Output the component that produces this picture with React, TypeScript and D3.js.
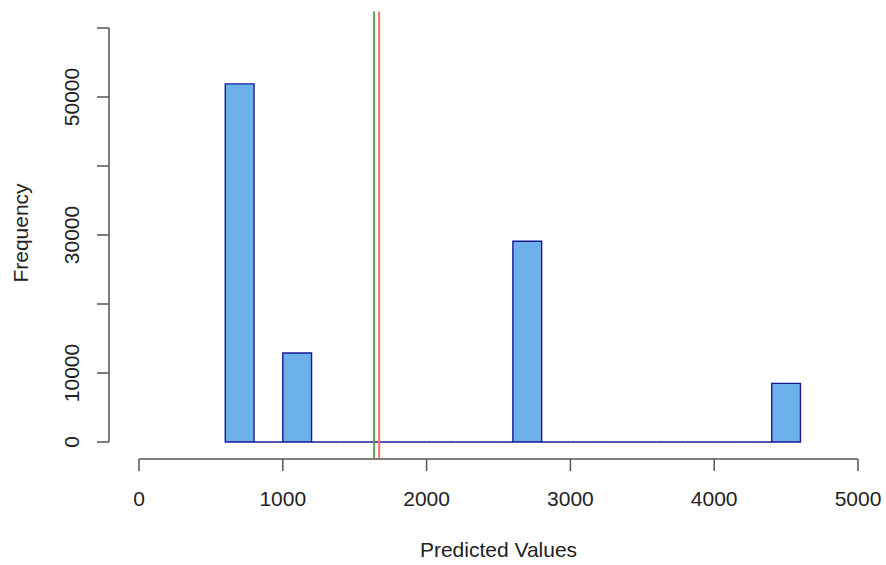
import React from "react";
import * as d3 from "d3";

// Histogram bins (left edge, width 200) and their counts
const binStarts = [600, 800, 1000, 1200, 1400, 1600, 1800, 2000, 2200, 2400, 2600, 2800, 3000, 3200, 3400, 3600, 3800, 4000, 4200, 4400];
const binCounts = [51900, 0, 12900, 0, 0, 0, 0, 0, 0, 0, 29100, 0, 0, 0, 0, 0, 0, 0, 0, 8500];
const binWidth = 200;

const xTicks = [0, 1000, 2000, 3000, 4000, 5000];
const yTicks = [0, 10000, 20000, 30000, 40000, 50000, 60000];
const yTickLabels = [0, 10000, 30000, 50000];

// Reference lines: green and red verticals
const greenLineValue = 1635;
const redLineValue = 1670;

const W = 886;
const H = 565;

export default function App() {
  const x = d3.scaleLinear().domain([0, 5000]).range([139, 858]);
  const y = d3.scaleLinear().domain([0, 60000]).range([442, 28]);
  const plotTop = y(62400);
  const plotBottom = y(-2400);

  const font = "'Liberation Sans', Arial, Helvetica, sans-serif";
  const textColor = "#222";
  const axisColor = "#555";
  const fs = 21;

  // Each bar as a closed path so that empty bins still show their outline
  const barPath = (s: number, c: number) => {
    const p = d3.path();
    p.moveTo(x(s), y(0));
    p.lineTo(x(s), y(c));
    p.lineTo(x(s + binWidth), y(c));
    p.lineTo(x(s + binWidth), y(0));
    p.closePath();
    return p.toString();
  };

  return (
    <svg width={W} height={H} style={{ position: "absolute", left: 0, top: 0, background: "#fff" }}>
      {/* bars */}
      <g>
        {binStarts.map((s, i) => (
          <path key={s} d={barPath(s, binCounts[i])} fill="#6DB1EB" stroke="#1A1A96" strokeWidth={1.4} />
        ))}
      </g>

      {/* vertical reference lines */}
      <line x1={x(greenLineValue)} x2={x(greenLineValue)} y1={plotTop} y2={plotBottom} stroke="#5E9A5E" strokeWidth={2} />
      <line x1={x(redLineValue)} x2={x(redLineValue)} y1={plotTop} y2={plotBottom} stroke="#FF6E6E" strokeWidth={2} />

      {/* x axis */}
      <g>
        <line x1={x(0)} x2={x(5000)} y1={459} y2={459} stroke={axisColor} strokeWidth={1.5} />
        {xTicks.map((t) => (
          <g key={t}>
            <line x1={x(t)} x2={x(t)} y1={459} y2={471} stroke={axisColor} strokeWidth={1.5} />
            <text x={x(t)} y={506} textAnchor="middle" fontFamily={font} fontSize={fs} fill={textColor}>
              {t}
            </text>
          </g>
        ))}
        <text x={x(2500)} y={557} textAnchor="middle" fontFamily={font} fontSize={fs} fill={textColor}>
          Predicted Values
        </text>
      </g>

      {/* y axis */}
      <g>
        <line x1={109} x2={109} y1={y(0)} y2={y(60000)} stroke={axisColor} strokeWidth={1.5} />
        {yTicks.map((t) => (
          <line key={t} x1={97} x2={109} y1={y(t)} y2={y(t)} stroke={axisColor} strokeWidth={1.5} />
        ))}
        {yTickLabels.map((t) => (
          <text
            key={t}
            transform={`translate(79,${y(t)}) rotate(-90)`}
            textAnchor="middle"
            fontFamily={font}
            fontSize={fs}
            fill={textColor}
          >
            {t}
          </text>
        ))}
        <text transform={`translate(28,233) rotate(-90)`} textAnchor="middle" fontFamily={font} fontSize={fs} fill={textColor}>
          Frequency
        </text>
      </g>
    </svg>
  );
}
